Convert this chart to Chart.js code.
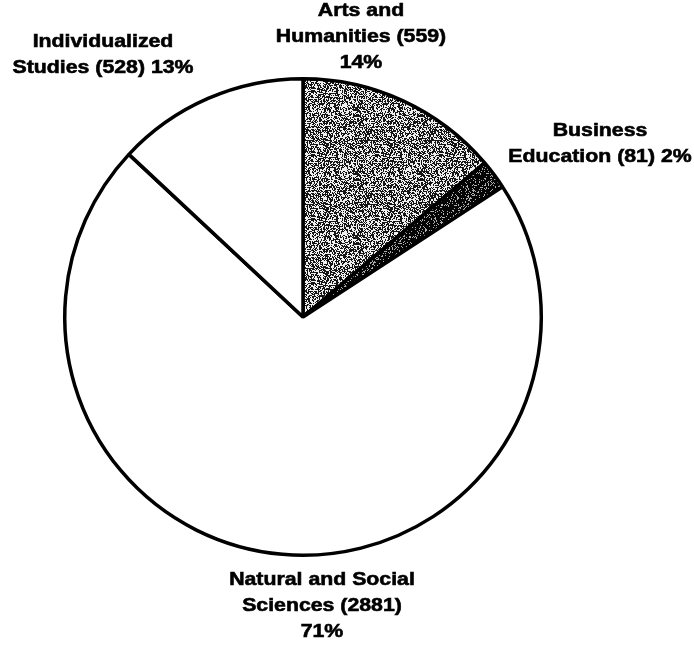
<!DOCTYPE html>
<html>
<head>
<meta charset="utf-8">
<script src="https://cdn.jsdelivr.net/npm/chart.js@4.4.0/dist/chart.umd.min.js"></script>
<style>
html,body{margin:0;padding:0;background:#fff;}
#wrap{width:694px;height:652px;position:relative;}
</style>
</head>
<body>
<div id="wrap"><canvas id="c" width="694" height="652"></canvas></div>
<script>
const categories = ["Arts and Humanities", "Business Education", "Natural and Social Sciences", "Individualized Studies"];
const counts = [559, 81, 2881, 528];
const percentLabels = ["14%", "2%", "71%", "13%"];
const labelLines = [
  ["Arts and", "Humanities (559)", "14%"],
  ["Business", "Education (81) 2%"],
  ["Natural and Social", "Sciences (2881)", "71%"],
  ["Individualized", "Studies (528) 13%"]
];

function hash(x, y, s) {
  let h = Math.imul(x, 374761393) + Math.imul(y, 668265263) + Math.imul(s, 1442695041);
  h = Math.imul(h ^ (h >>> 13), 1274126177);
  h = h ^ (h >>> 16);
  return (h >>> 0) & 255;
}
function makePattern(dark, light, size, threshold, seed) {
  const pc = document.createElement('canvas');
  pc.width = size; pc.height = size;
  const p = pc.getContext('2d');
  p.fillStyle = light; p.fillRect(0, 0, size, size);
  p.fillStyle = dark;
  for (let y = 0; y < size; y++) for (let x = 0; x < size; x++) {
    if (hash(x, y, seed) < threshold) p.fillRect(x, y, 1, 1);
  }
  return document.getElementById('c').getContext('2d').createPattern(pc, 'repeat');
}
const grayPattern = makePattern('#151515', '#f0f0f0', 64, 135, 7);
const darkPattern = makePattern('#050505', '#b0b0b0', 32, 215, 3);

const labelPos = [
  {x: 361, y: 11},
  {x: 600, y: 131},
  {x: 322, y: 580},
  {x: 103, y: 42}
];

const labelPlugin = {
  id: 'sliceLabels',
  afterDraw(chart) {
    const ctx = chart.ctx;
    ctx.save();
    ctx.fillStyle = '#000';
    ctx.strokeStyle = '#000';
    ctx.lineWidth = 0.6;
    ctx.font = 'bold 19px "Liberation Sans", Arial, sans-serif';
    ctx.textAlign = 'center';
    ctx.textBaseline = 'middle';
    labelLines.forEach((lines, i) => {
      lines.forEach((t, j) => {
        ctx.save();
        ctx.translate(labelPos[i].x, labelPos[i].y + j * 26);
        ctx.scale(1.12, 1);
        ctx.fillText(t, 0, 0);
        ctx.strokeText(t, 0, 0);
        ctx.restore();
      });
    });
    ctx.restore();
  }
};

new Chart(document.getElementById('c'), {
  type: 'pie',
  data: {
    labels: categories,
    datasets: [{
      data: counts,
      backgroundColor: [grayPattern, darkPattern, '#ffffff', '#ffffff'],
      borderColor: '#000',
      borderWidth: 3.5,
      borderAlign: 'center'
    }]
  },
  options: {
    responsive: false,
    animation: false,
    layout: {padding: {left: 63, right: 151, top: 77, bottom: 95}},
    plugins: {legend: {display: false}, tooltip: {enabled: false}}
  },
  plugins: [labelPlugin]
});
</script>
</body>
</html>
